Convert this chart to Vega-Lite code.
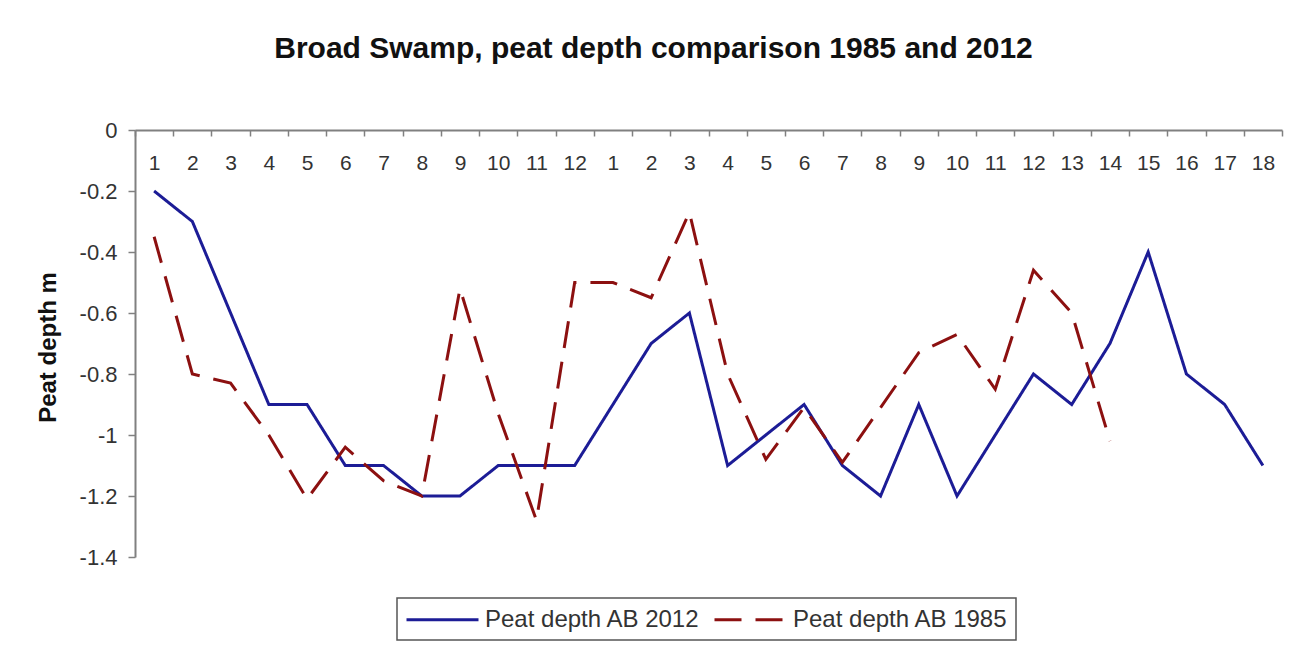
{
  "$schema": "https://vega.github.io/schema/vega-lite/v6.json",
  "width": 1147,
  "height": 427,
  "autosize": {"type": "none"},
  "padding": {"left": 135, "top": 130, "right": 21, "bottom": 89},
  "background": "white",
  "title": {
    "text": "Broad Swamp, peat depth comparison 1985 and 2012",
    "anchor": "middle",
    "frame": "group",
    "dx": -55,
    "offset": 31,
    "baseline": "alphabetic",
    "font": "Liberation Sans",
    "fontSize": 30,
    "fontWeight": "bold",
    "color": "#111111"
  },
  "data": {
    "values": [
      {"i": 1, "series": "Peat depth AB 2012", "depth": -0.2},
      {"i": 2, "series": "Peat depth AB 2012", "depth": -0.3},
      {"i": 3, "series": "Peat depth AB 2012", "depth": -0.6},
      {"i": 4, "series": "Peat depth AB 2012", "depth": -0.9},
      {"i": 5, "series": "Peat depth AB 2012", "depth": -0.9},
      {"i": 6, "series": "Peat depth AB 2012", "depth": -1.1},
      {"i": 7, "series": "Peat depth AB 2012", "depth": -1.1},
      {"i": 8, "series": "Peat depth AB 2012", "depth": -1.2},
      {"i": 9, "series": "Peat depth AB 2012", "depth": -1.2},
      {"i": 10, "series": "Peat depth AB 2012", "depth": -1.1},
      {"i": 11, "series": "Peat depth AB 2012", "depth": -1.1},
      {"i": 12, "series": "Peat depth AB 2012", "depth": -1.1},
      {"i": 13, "series": "Peat depth AB 2012", "depth": -0.9},
      {"i": 14, "series": "Peat depth AB 2012", "depth": -0.7},
      {"i": 15, "series": "Peat depth AB 2012", "depth": -0.6},
      {"i": 16, "series": "Peat depth AB 2012", "depth": -1.1},
      {"i": 17, "series": "Peat depth AB 2012", "depth": -1.0},
      {"i": 18, "series": "Peat depth AB 2012", "depth": -0.9},
      {"i": 19, "series": "Peat depth AB 2012", "depth": -1.1},
      {"i": 20, "series": "Peat depth AB 2012", "depth": -1.2},
      {"i": 21, "series": "Peat depth AB 2012", "depth": -0.9},
      {"i": 22, "series": "Peat depth AB 2012", "depth": -1.2},
      {"i": 23, "series": "Peat depth AB 2012", "depth": -1.0},
      {"i": 24, "series": "Peat depth AB 2012", "depth": -0.8},
      {"i": 25, "series": "Peat depth AB 2012", "depth": -0.9},
      {"i": 26, "series": "Peat depth AB 2012", "depth": -0.7},
      {"i": 27, "series": "Peat depth AB 2012", "depth": -0.4},
      {"i": 28, "series": "Peat depth AB 2012", "depth": -0.8},
      {"i": 29, "series": "Peat depth AB 2012", "depth": -0.9},
      {"i": 30, "series": "Peat depth AB 2012", "depth": -1.1},
      {"i": 1, "series": "Peat depth AB 1985", "depth": -0.35},
      {"i": 2, "series": "Peat depth AB 1985", "depth": -0.8},
      {"i": 3, "series": "Peat depth AB 1985", "depth": -0.83},
      {"i": 4, "series": "Peat depth AB 1985", "depth": -1.0},
      {"i": 5, "series": "Peat depth AB 1985", "depth": -1.21},
      {"i": 6, "series": "Peat depth AB 1985", "depth": -1.04},
      {"i": 7, "series": "Peat depth AB 1985", "depth": -1.15},
      {"i": 8, "series": "Peat depth AB 1985", "depth": -1.2},
      {"i": 9, "series": "Peat depth AB 1985", "depth": -0.52},
      {"i": 10, "series": "Peat depth AB 1985", "depth": -0.93},
      {"i": 11, "series": "Peat depth AB 1985", "depth": -1.28},
      {"i": 12, "series": "Peat depth AB 1985", "depth": -0.5},
      {"i": 13, "series": "Peat depth AB 1985", "depth": -0.5},
      {"i": 14, "series": "Peat depth AB 1985", "depth": -0.55},
      {"i": 15, "series": "Peat depth AB 1985", "depth": -0.27},
      {"i": 16, "series": "Peat depth AB 1985", "depth": -0.8},
      {"i": 17, "series": "Peat depth AB 1985", "depth": -1.08},
      {"i": 18, "series": "Peat depth AB 1985", "depth": -0.91},
      {"i": 19, "series": "Peat depth AB 1985", "depth": -1.09},
      {"i": 20, "series": "Peat depth AB 1985", "depth": -0.91},
      {"i": 21, "series": "Peat depth AB 1985", "depth": -0.73},
      {"i": 22, "series": "Peat depth AB 1985", "depth": -0.67},
      {"i": 23, "series": "Peat depth AB 1985", "depth": -0.85},
      {"i": 24, "series": "Peat depth AB 1985", "depth": -0.46},
      {"i": 25, "series": "Peat depth AB 1985", "depth": -0.6},
      {"i": 26, "series": "Peat depth AB 1985", "depth": -1.02}
    ]
  },
  "mark": {"type": "line", "strokeWidth": 3},
  "encoding": {
    "x": {
      "field": "i",
      "type": "ordinal",
      "bandPosition": 0.5,
      "scale": {"type": "band", "paddingInner": 0, "paddingOuter": 0},
      "axis": {
        "orient": "top",
        "title": null,
        "tickBand": "extent",
        "tickSize": -6,
        "tickColor": "#808080",
        "tickWidth": 1.5,
        "domainColor": "#808080",
        "domainWidth": 2,
        "labelPadding": -27,
        "labelBaseline": "middle",
        "labelAngle": 0,
        "labelFont": "Liberation Sans",
        "labelFontSize": 21,
        "labelColor": "#333333",
        "labelExpr": "datum.value > 12 ? datum.value - 12 : datum.value",
        "grid": false
      }
    },
    "y": {
      "field": "depth",
      "type": "quantitative",
      "scale": {"domain": [-1.4, 0], "nice": false, "zero": false},
      "axis": {
        "title": "Peat depth m",
        "titleFont": "Liberation Sans",
        "titleFontSize": 24,
        "titleFontWeight": "bold",
        "titleColor": "#111111",
        "titleAngle": -90,
        "titleAlign": "center",
        "titleBaseline": "alphabetic",
        "titleX": -80,
        "titleY": 217,
        "values": [0, -0.2, -0.4, -0.6, -0.8, -1, -1.2, -1.4],
        "labelExpr": "datum.value == 0 ? '0' : '-' + format(abs(datum.value), '~g')",
        "labelFont": "Liberation Sans",
        "labelFontSize": 22,
        "labelColor": "#333333",
        "labelPadding": 11,
        "tickSize": 7,
        "tickColor": "#808080",
        "tickWidth": 1.5,
        "domainColor": "#808080",
        "domainWidth": 2,
        "grid": false
      }
    },
    "color": {
      "field": "series",
      "type": "nominal",
      "scale": {
        "domain": ["Peat depth AB 2012", "Peat depth AB 1985"],
        "range": ["#1c1c96", "#8c1010"]
      },
      "legend": {"title": null}
    },
    "strokeDash": {
      "field": "series",
      "type": "nominal",
      "scale": {
        "domain": ["Peat depth AB 2012", "Peat depth AB 1985"],
        "range": [[1, 0], [27, 14]]
      },
      "legend": {"title": null}
    }
  },
  "config": {
    "view": {"stroke": null},
    "legend": {
      "orient": "none",
      "legendX": 262,
      "legendY": 468,
      "direction": "horizontal",
      "strokeColor": "#555555",
      "strokeWidth": 1.5,
      "fillColor": "white",
      "padding": 8,
      "labelFont": "Liberation Sans",
      "labelFontSize": 24,
      "labelColor": "#333333",
      "labelLimit": 0,
      "labelOffset": 53,
      "columnPadding": 8,
      "symbolType": "M-1,0H5",
      "symbolSize": 576,
      "symbolStrokeWidth": 3
    }
  }
}
